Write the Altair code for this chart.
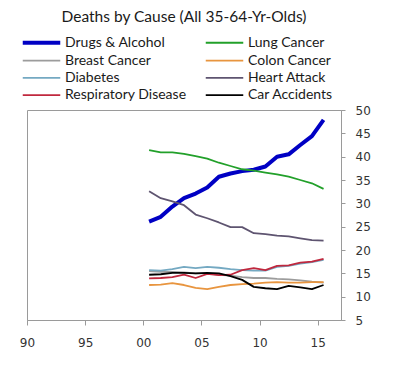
import altair as alt
import pandas as pd

years = list(range(2000, 2016))
causes = ["Drugs & Alcohol", "Lung Cancer", "Breast Cancer", "Colon Cancer",
          "Diabetes", "Heart Attack", "Respiratory Disease", "Car Accidents"]
colors = ["#0000c4", "#22a02a", "#9c9c9c", "#e8953f",
          "#74a9c2", "#5e5470", "#c0283e", "#000000"]
widths = [4, 1.8, 1.8, 1.8, 1.8, 1.8, 1.8, 1.8]

drugs = [26.1, 27.1, 29.3, 31.1, 32.1, 33.4, 35.7, 36.4, 36.9, 37.2, 37.9, 40.0, 40.5, 42.5, 44.4, 47.9]
lung = [41.4, 40.9, 40.9, 40.6, 40.1, 39.6, 38.7, 38.0, 37.3, 37.0, 36.6, 36.2, 35.7, 35.0, 34.3, 33.1]
breast = [15.5, 15.3, 15.3, 15.2, 15.0, 15.0, 14.7, 14.5, 14.2, 14.0, 14.0, 13.8, 13.7, 13.5, 13.2, 13.0]
colon = [12.5, 12.6, 12.9, 12.5, 11.9, 11.6, 12.1, 12.5, 12.7, 12.8, 13.0, 13.1, 13.0, 13.0, 13.1, 13.1]
diabetes = [15.7, 15.6, 15.9, 16.4, 16.1, 16.4, 16.2, 15.9, 15.7, 15.6, 15.6, 16.4, 16.6, 17.1, 17.4, 17.9]
heart = [32.6, 31.1, 30.4, 29.6, 27.6, 26.8, 25.9, 24.9, 24.9, 23.6, 23.4, 23.1, 22.9, 22.5, 22.1, 22.0]
resp = [13.9, 14.0, 14.2, 14.7, 14.0, 14.9, 14.6, 14.7, 15.7, 16.1, 15.7, 16.6, 16.7, 17.3, 17.5, 18.1]
car = [14.7, 14.8, 15.1, 15.1, 15.0, 15.1, 15.0, 14.4, 13.6, 12.1, 11.8, 11.6, 12.3, 12.0, 11.6, 12.5]

series = [drugs, lung, breast, colon, diabetes, heart, resp, car]
x_ticks = [1990, 1995, 2000, 2005, 2010, 2015]
y_ticks = [5, 10, 15, 20, 25, 30, 35, 40, 45, 50]

# legend is filled column by column: reorder so rows read as in the reference
legend_order = [causes[i] for i in (0, 2, 4, 6, 1, 3, 5, 7)]
color_map = dict(zip(causes, colors))
width_map = dict(zip(causes, widths))

rows = []
for ci, (c, vals) in enumerate(zip(causes, series)):
    for y, v in zip(years, vals):
        rows.append({"year": y, "value": v, "cause": c, "order": ci})
df = pd.DataFrame(rows)

axis_color = "#9a9a9a"
legend_cfg = dict(title=None, orient="none", legendX=5, legendY=-77,
                  columns=2, symbolType="M-2.5,0H2.5", symbolSize=225,
                  labelFont="Lato", labelFontSize=14, labelColor="#1a1a1a",
                  labelOffset=14, rowPadding=1.2, columnPadding=15, symbolOpacity=1)

chart = alt.Chart(df).transform_calculate(
    xpos="datum.year + 0.5"
).mark_line(strokeJoin="round").encode(
    x=alt.X("xpos:Q", scale=alt.Scale(domain=[1990, 2017], nice=False, zero=False),
            axis=alt.Axis(values=x_ticks, title=None, grid=False,
                          labelExpr="substring(toString(datum.value), 2, 4)",
                          labelFont="DejaVu Sans", labelFontSize=12, labelColor="#333333",
                          labelPadding=12, tickSize=5, tickColor=axis_color,
                          domainColor=axis_color, labelFlush=False)),
    y=alt.Y("value:Q", scale=alt.Scale(domain=[5, 50], nice=False, zero=False),
            axis=alt.Axis(orient="right", values=y_ticks, title=None, grid=False,
                          labelFont="DejaVu Sans", labelFontSize=12, labelColor="#333333",
                          labelPadding=10, tickSize=4, tickColor=axis_color,
                          domainColor=axis_color)),
    color=alt.Color("cause:N",
                    scale=alt.Scale(domain=legend_order,
                                    range=[color_map[c] for c in legend_order]),
                    legend=alt.Legend(**legend_cfg)),
    strokeWidth=alt.StrokeWidth("cause:N",
                                scale=alt.Scale(type="ordinal", domain=legend_order,
                                                range=[width_map[c] for c in legend_order]),
                                legend=alt.Legend(**legend_cfg)),
    detail="cause:N",
    order="order:Q",
).properties(
    width=314, height=210,
    title=alt.TitleParams("Deaths by Cause (All 35-64-Yr-Olds)", font="Lato", fontSize=15.5,
                          fontWeight="normal", color="#1a1a1a", anchor="middle",
                          offset=8),
    autosize=alt.AutoSizeParams(type="none"),
    padding={"left": 19, "top": 102, "right": 44, "bottom": 37},
).configure_view(stroke=axis_color, strokeWidth=1)

chart.save("out.html", embed_options={"renderer": "svg", "actions": False})
